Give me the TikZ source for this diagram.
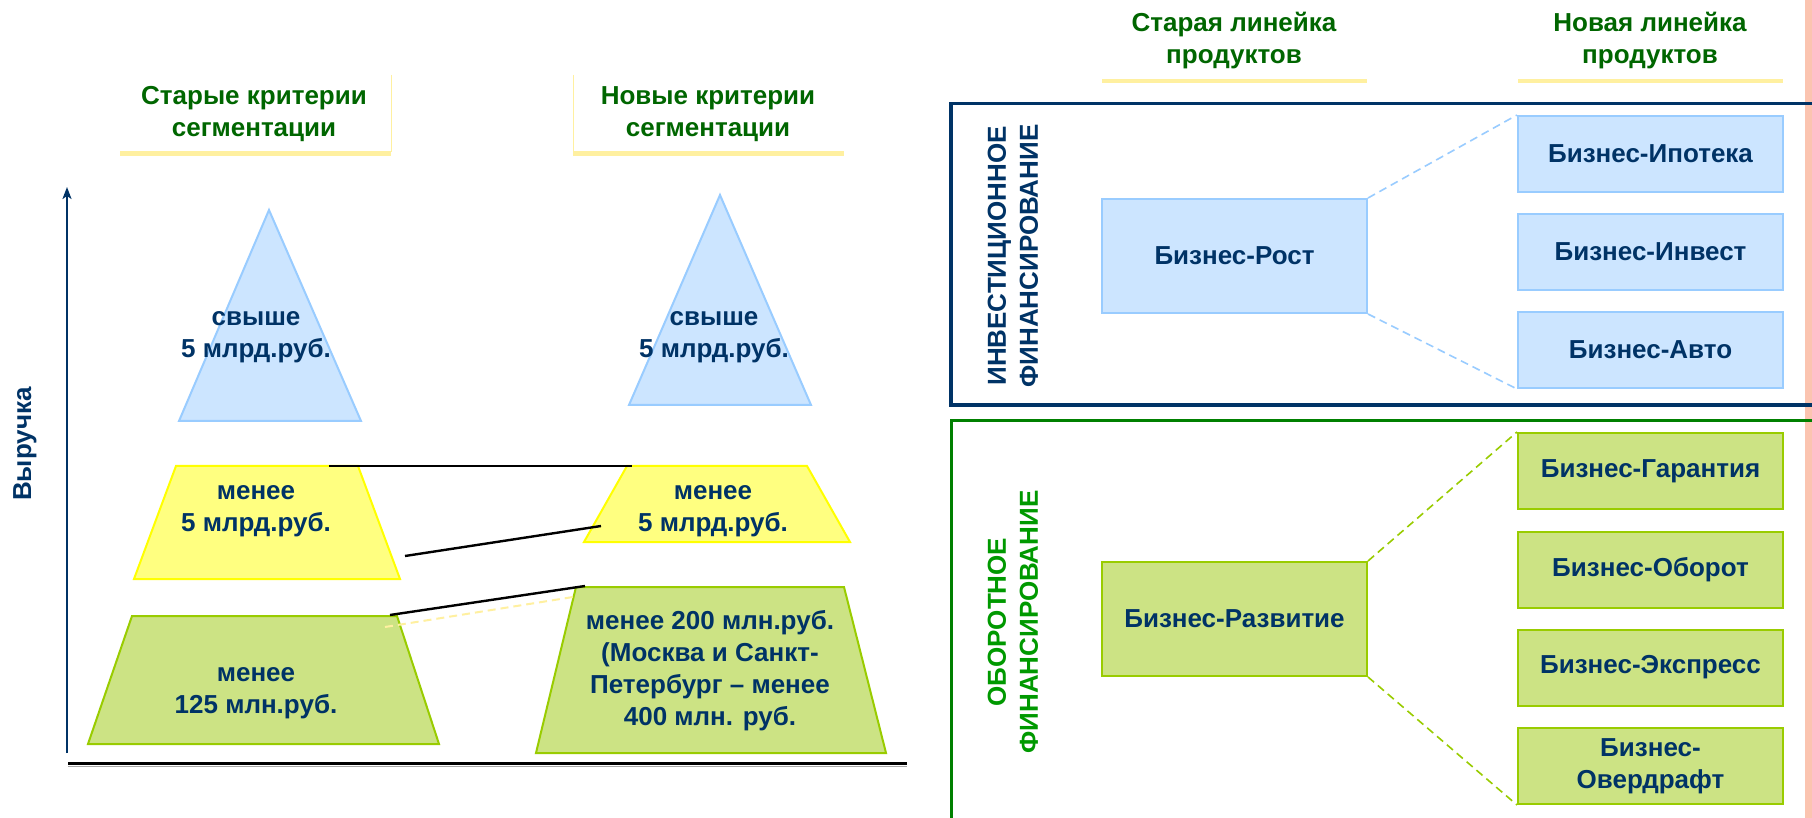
\documentclass[tikz,border=0pt]{standalone}
\usepackage{fontspec}
\setmainfont{Liberation Sans}
\usetikzlibrary{arrows.meta}
\definecolor{navy}{HTML}{003366}
\definecolor{hdrgreen}{HTML}{006600}
\definecolor{brightgreen}{HTML}{009900}
\definecolor{framegreen}{HTML}{008000}
\definecolor{bluefill}{HTML}{CCE5FF}
\definecolor{bluestroke}{HTML}{99CCFF}
\definecolor{yelfill}{HTML}{FFFF80}
\definecolor{yelstroke}{HTML}{FFFF00}
\definecolor{grnfill}{HTML}{CCE384}
\definecolor{grnstroke}{HTML}{99CC00}
\definecolor{underline}{HTML}{FFF0A0}
\definecolor{salmon}{HTML}{FBC4B0}
\tikzset{
  txt/.style={text=navy, align=center, inner sep=0pt},
  hdr/.style={text=hdrgreen, align=center, inner sep=0pt},
  uline/.style={draw=underline, line width=2.5pt},
  vline/.style={draw=underline, line width=0.5pt},
  bluebox/.style={draw=bluestroke, fill=bluefill, line width=1pt, minimum width=132.5pt, inner sep=0pt, text=navy, align=center},
  grnbox/.style={draw=grnstroke, fill=grnfill, line width=1pt, minimum width=132.5pt, inner sep=0pt, text=navy, align=center},
  bigbox/.style={minimum height=57pt},
  smallbox/.style={minimum height=38pt},
  blueshape/.style={draw=bluestroke, fill=bluefill, line width=1pt},
  yelshape/.style={draw=yelstroke, fill=yelfill, line width=1pt},
  grnshape/.style={draw=grnstroke, fill=grnfill, line width=1pt},
  link/.style={draw=black, line width=1.2pt},
  bluedash/.style={draw=bluestroke, line width=0.8pt, dash pattern=on 4pt off 2.5pt},
  grndash/.style={draw=grnstroke, line width=0.8pt, dash pattern=on 4pt off 2.5pt},
  yeldash/.style={draw=underline, line width=1pt, dash pattern=on 4pt off 2.5pt},
}
\begin{document}
\begin{tikzpicture}[x=0.5pt,y=-0.5pt, font=\fontsize{13}{16}\selectfont\bfseries]
\clip (0,0) rectangle (1812,818);
\fill[white] (0,0) rectangle (1812,818);

% right salmon stripe
\fill[salmon] (1805,0) rectangle (1812,818);

% ---------- left part ----------
% headers
\node[hdr] (hOld) at (254,114) {Старые критерии\\сегментации};
\node[hdr] (hNew) at (708,114) {Новые критерии\\сегментации};
\draw[uline] (120,153.5) -- (391,153.5);
\draw[uline] (573,153.5) -- (844,153.5);
\draw[vline] (391,75) -- (391,152);
\draw[vline] (573,75) -- (573,152);

% axis
\coordinate (axBot) at (67,753);
\coordinate (axTop) at (67,187);
\draw[navy, line width=1pt, -{Stealth[length=6pt,width=4.5pt,inset=1.5pt]}] (axBot) -- (axTop);
\node[txt, rotate=90] (vyr) at (25,444) {Выручка};
\coordinate (baseL) at (68,763);
\coordinate (baseR) at (907,763);
\draw[gray!70, line width=0.6pt] ([yshift=-1.6pt]baseL) -- ([yshift=-1.6pt]baseR);
\draw[black, line width=1.5pt] (baseL) -- (baseR);

% triangles
\draw[blueshape] (269,210) -- (361,421) -- (179,421) -- cycle;
\draw[blueshape] (720,195) -- (811,405) -- (629,405) -- cycle;
% yellow trapezoids
\draw[yelshape] (176,466) -- (358,466) -- (400,579) -- (134,579) -- cycle;
\draw[yelshape] (627,466) -- (807,466) -- (850,542) -- (584,542) -- cycle;
% green trapezoids
\draw[grnshape] (132,616) -- (397,616) -- (439,744) -- (88,744) -- cycle;
\draw[grnshape] (576,587) -- (844,587) -- (886,753) -- (536,753) -- cycle;

% texts
\node[txt] (tOldTop) at (256,337) {свыше\\5 млрд.руб.};
\node[txt] (tNewTop) at (714,337) {свыше\\5 млрд.руб.};
\node[txt] (tOldMid) at (256,511) {менее\\5 млрд.руб.};
\node[txt] (tNewMid) at (713,511) {менее\\5 млрд.руб.};
\node[txt] (tOldLow) at (256,693) {менее\\125 млн.руб.};
\node[txt] (tNewLow) at (710,671) {менее 200 млн.руб.\\(Москва и Санкт-\\Петербург – менее\\400 млн. руб.};

% connectors
\coordinate (c1a) at (329,466);
\coordinate (c1b) at (632,466);
\coordinate (c2a) at (405,556);
\coordinate (c2b) at (601,526);
\coordinate (c3a) at (390,615);
\coordinate (c3b) at (585,586);
\coordinate (c4a) at (385,627);
\coordinate (c4b) at (573,597);
\draw[yeldash] (c4a) -- (c4b);
\draw[link] (c1a) -- (c1b);
\draw[link] (c2a) -- (c2b);
\draw[link] (c3a) -- (c3b);

% ---------- right part ----------
\node[hdr] (hOldLine) at (1234,41) {Старая линейка\\продуктов};
\node[hdr] (hNewLine) at (1650,41) {Новая линейка\\продуктов};
\draw[uline,line width=2.2pt] (1102,81) -- (1367,81);
\draw[uline,line width=2.2pt] (1518,81) -- (1783,81);

% frames
\draw[navy, line width=1.75pt] (1830,103.5) -- (951,103.5) -- (951,405) -- (1830,405);
\draw[framegreen, line width=1.5pt] (1830,421) -- (951,421) -- (951,900);

\node[txt, rotate=90] (invest) at (1013,256) {ИНВЕСТИЦИОННОЕ\\ФИНАНСИРОВАНИЕ};
\node[txt, text=brightgreen, rotate=90] (oborot) at (1013,622) {ОБОРОТНОЕ\\ФИНАНСИРОВАНИЕ};

% blue boxes
\node[bluebox, bigbox] (rost) at (1234.5,256) {Бизнес-Рост};
\node[bluebox, smallbox] (ipoteka) at (1650.5,154) {Бизнес-Ипотека};
\node[bluebox, smallbox] (invbox) at (1650.5,252) {Бизнес-Инвест};
\node[bluebox, smallbox] (avto) at (1650.5,350) {Бизнес-Авто};
\draw[bluedash] (rost.north east) -- (ipoteka.north west);
\draw[bluedash] (rost.south east) -- (avto.south west);

% green boxes
\node[grnbox, bigbox] (razv) at (1234.5,619) {Бизнес-Развитие};
\node[grnbox, smallbox] (garant) at (1650.5,471) {Бизнес-Гарантия};
\node[grnbox, smallbox] (oborotbox) at (1650.5,569.5) {Бизнес-Оборот};
\node[grnbox, smallbox] (express) at (1650.5,667.5) {Бизнес-Экспресс};
\node[grnbox, smallbox] (overdraft) at (1650.5,766) {Бизнес-\\Овердрафт};
\draw[grndash] (razv.north east) -- (garant.north west);
\draw[grndash] (razv.south east) -- (overdraft.south west);
\end{tikzpicture}
\end{document}
